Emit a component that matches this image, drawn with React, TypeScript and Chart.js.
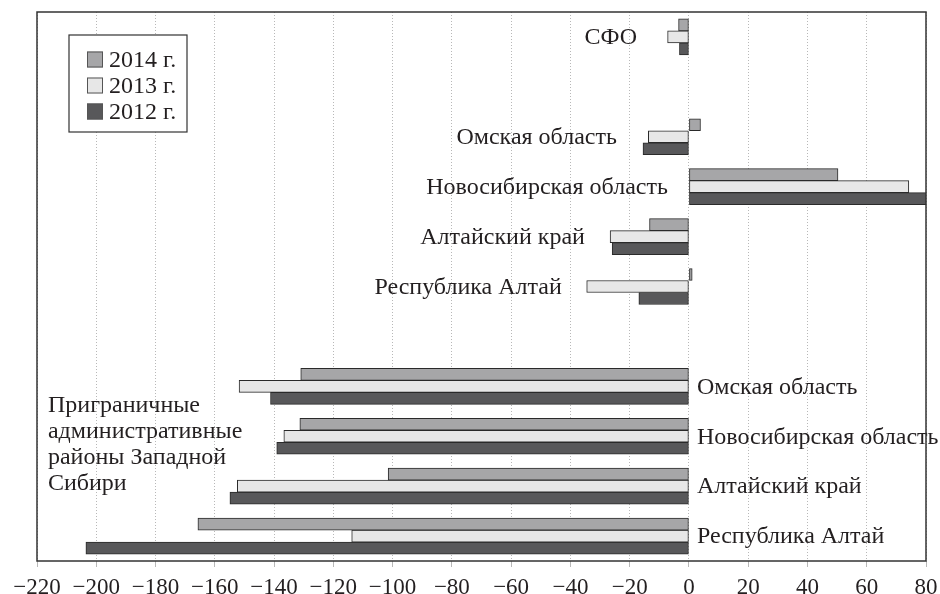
import React, { useEffect, useRef } from "react";
import { Chart, registerables } from "chart.js";

Chart.register(...registerables);

// Slots from top to bottom ('' = empty gap slot)
const categories = [
  "СФО",
  "",
  "Омская область",
  "Новосибирская область",
  "Алтайский край",
  "Республика Алтай",
  "",
  "Омская область",
  "Новосибирская область",
  "Алтайский край",
  "Республика Алтай",
];

const seriesNames = ["2014 г.", "2013 г.", "2012 г."];

const values2014 = [-3.5, null, 3.9, 50.3, -13.3, 1.1, null, -131.0, -131.3, -101.5, -165.7];
const values2013 = [-7.2, null, -13.7, 74.2, -26.6, -34.5, null, -151.8, -136.7, -152.4, -113.8];
const values2012 = [-3.2, null, -15.5, 82, -25.9, -16.9, null, -141.2, -139.1, -154.9, -203.5];

const xTicks = [-220, -200, -180, -160, -140, -120, -100, -80, -60, -40, -20, 0, 20, 40, 60, 80];

const groupLabelLines = ["Приграничные", "административные", "районы Западной", "Сибири"];

const colors = ["#a6a6a8", "#e7e7e7", "#58585a"];
const FONT = '"Liberation Serif", "DejaVu Serif", serif';
const TEXT = "#231f20";

// label anchors (value units): top labels right-aligned, bottom labels left-aligned
const topLabelAnchors: Record<number, number> = { 0: -17.5, 2: -24.3, 3: -7.1, 4: -35.1, 5: -42.9 };
const bottomLabelAnchor = 2.7;

const annotatePlugin = {
  id: "annotate",
  afterDraw(chart: any) {
    const { ctx, chartArea, scales } = chart;
    const xs = scales.x;
    const ys = scales.y;
    ctx.save();
    ctx.fillStyle = TEXT;
    ctx.font = `24px ${FONT}`;
    ctx.textBaseline = "middle";
    categories.forEach((name, i) => {
      if (!name) return;
      const y = ys.getPixelForValue(i);
      if (i < 6) {
        ctx.textAlign = "right";
        ctx.fillText(name, xs.getPixelForValue(topLabelAnchors[i]), y + 1);
      } else {
        ctx.textAlign = "left";
        ctx.fillText(name, xs.getPixelForValue(bottomLabelAnchor), y + 1);
      }
    });
    // group label
    ctx.textAlign = "left";
    const gx = xs.getPixelForValue(-216.3);
    const gy0 = ys.getPixelForValue(7) + 19;
    groupLabelLines.forEach((line, k) => ctx.fillText(line, gx, gy0 + k * 26));

    // frame
    ctx.strokeStyle = "#333";
    ctx.lineWidth = 1.5;
    ctx.strokeRect(chartArea.left, chartArea.top, chartArea.right - chartArea.left, chartArea.bottom - chartArea.top);

    // legend
    const lx = chartArea.left + 32;
    const ly = chartArea.top + 23;
    ctx.fillStyle = "#fff";
    ctx.fillRect(lx, ly, 118, 97);
    ctx.lineWidth = 1.2;
    ctx.strokeStyle = "#333";
    ctx.strokeRect(lx, ly, 118, 97);
    seriesNames.forEach((s, k) => {
      const cy = ly + 24.5 + k * 26;
      ctx.fillStyle = colors[k];
      ctx.fillRect(lx + 18, cy - 8, 16, 16);
      ctx.strokeStyle = "#555";
      ctx.lineWidth = 1;
      ctx.strokeRect(lx + 18.5, cy - 7.5, 15, 15);
      ctx.fillStyle = TEXT;
      ctx.textAlign = "left";
      ctx.fillText(s, lx + 40, cy + 1);
    });
    ctx.restore();
  },
};

export default function App() {
  const ref = useRef<HTMLCanvasElement | null>(null);
  useEffect(() => {
    if (!ref.current) return;
    const series = [values2014, values2013, values2012];
    const chart = new Chart(ref.current, {
      type: "bar",
      data: {
        labels: categories,
        datasets: series.map((vals, k) => ({
          label: seriesNames[k],
          data: vals,
          backgroundColor: colors[k],
          borderColor: "#2a2a2a",
          borderWidth: 1,
          borderSkipped: false,
          barThickness: 12,
        })),
      },
      options: {
        indexAxis: "y",
        animation: false,
        responsive: true,
        maintainAspectRatio: false,
        layout: { padding: { left: 37, top: 12, right: 14, bottom: 0 } },
        plugins: { legend: { display: false }, tooltip: { enabled: false } },
        scales: {
          x: {
            type: "linear",
            min: -220,
            max: 80,
            afterBuildTicks: (scale: any) => {
              scale.ticks = xTicks.map((v) => ({ value: v }));
            },
            afterFit: (scale: any) => {
              scale.height = 33;
              scale.paddingLeft = 0;
              scale.paddingRight = 0;
            },
            grid: {
              color: "#b8b8b8",
              lineWidth: 1,
              tickLength: 6,
              drawTicks: true,
            },
            border: { display: false, dash: [1, 2] },
            ticks: {
              color: TEXT,
              font: { family: FONT, size: 23 },
              padding: 7,
              maxRotation: 0,
              autoSkip: false,
              callback: (v: any) => (Number(v) < 0 ? "\u2212" + Math.abs(Number(v)) : String(v)),
            },
          },
          y: {
            type: "category",
            display: false,
            offset: true,
            grid: { display: false },
          },
        },
      },
      plugins: [annotatePlugin],
    });
    return () => chart.destroy();
  }, []);
  return (
    <div style={{ position: "fixed", left: 0, top: 0, width: 940, height: 594, background: "#fff" }}>
      <canvas ref={ref} />
    </div>
  );
}
